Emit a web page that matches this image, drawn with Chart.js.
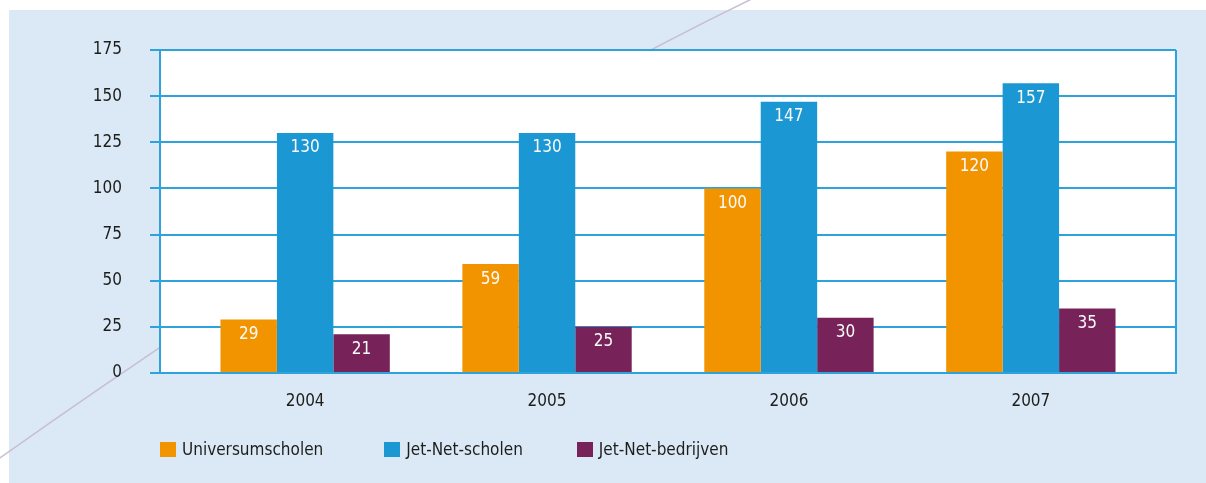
<!DOCTYPE html>
<html>
<head>
<meta charset="utf-8">
<script src="https://cdn.jsdelivr.net/npm/chart.js@4.4.1/dist/chart.umd.min.js"></script>
<style>
    html, body { margin: 0; padding: 0; background: #ffffff; }
    #wrap { position: relative; width: 1206px; height: 483px; }
    #legend {
        position: absolute; left: 160px; top: 437px;
        display: flex; align-items: center;
        font-family: 'Liberation Sans Narrow', 'DejaVu Sans Condensed', sans-serif;
        font-size: 17px; color: #1d1d1b;
    }
    #legend .item { display: flex; align-items: center; line-height: 24px; }
    #legend .item:nth-child(1) { margin-right: 61px; }
    #legend .item:nth-child(2) { margin-right: 54px; }
    #legend .box { width: 16px; height: 15px; margin-right: 6px; }
</style>
</head>
<body>
<div id="wrap">
    <canvas id="chart" width="1206" height="483"></canvas>
    <div id="legend"></div>
</div>
<script>
// gegevens
const jaren = ['2004', '2005', '2006', '2007'];
const universumscholen = [29, 59, 100, 120];
const jetNetScholen = [130, 130, 147, 157];
const jetNetBedrijven = [21, 25, 30, 35];
const yTicks = [0, 25, 50, 75, 100, 125, 150, 175];

const FONT = "'Liberation Sans Narrow', 'DejaVu Sans Condensed', sans-serif";
const GRID = '#2ea2da';

// achtergrond, witte plotvlak en decoratieve lijn
const backdrop = {
    id: 'backdrop',
    beforeDraw(chart) {
        const { ctx, chartArea: a } = chart;
        ctx.save();
        ctx.fillStyle = '#dbe9f6';
        ctx.fillRect(9, 10, chart.width - 9, chart.height - 10);
        // dunne gebogen lijn op de achtergrond
        ctx.strokeStyle = '#c9bdd2';
        ctx.lineWidth = 1.5;
        ctx.beginPath();
        ctx.moveTo(760, -5);
        ctx.quadraticCurveTo(427, 155, -10, 465);
        ctx.stroke();
        ctx.fillStyle = '#ffffff';
        ctx.fillRect(a.left, a.top, a.right - a.left, a.bottom - a.top);
        ctx.restore();
    },
    beforeDatasetsDraw(chart) {
        const { ctx, chartArea: a } = chart;
        ctx.save();
        ctx.strokeStyle = GRID;
        ctx.lineWidth = 2;
        ctx.beginPath();
        ctx.moveTo(a.right, a.top);
        ctx.lineTo(a.right, a.bottom);
        ctx.stroke();
        ctx.restore();
    }
};

// waarden in de staven
const barValues = {
    id: 'barValues',
    afterDatasetsDraw(chart) {
        const { ctx } = chart;
        ctx.save();
        ctx.fillStyle = '#fbfbfb';
        ctx.font = '17px ' + FONT;
        ctx.textAlign = 'center';
        ctx.textBaseline = 'middle';
        chart.data.datasets.forEach((ds, i) => {
            chart.getDatasetMeta(i).data.forEach((bar, j) => {
                ctx.fillText(ds.data[j], bar.x, bar.y + 15);
            });
        });
        ctx.restore();
    }
};

const chart = new Chart(document.getElementById('chart'), {
    type: 'bar',
    data: {
        labels: jaren,
        datasets: [
            { label: 'Universumscholen', data: universumscholen, backgroundColor: '#f29300' },
            { label: 'Jet-Net-scholen', data: jetNetScholen, backgroundColor: '#1b98d3' },
            { label: 'Jet-Net-bedrijven', data: jetNetBedrijven, backgroundColor: '#77235a' }
        ]
    },
    options: {
        responsive: false,
        animation: false,
        layout: { padding: { top: 50, right: 30, left: 0, bottom: 0 } },
        datasets: { bar: { categoryPercentage: 0.7, barPercentage: 1.0 } },
        plugins: {
            legend: { display: false },
            tooltip: { enabled: false }
        },
        scales: {
            x: {
                grid: { display: false, drawTicks: false },
                border: { color: GRID, width: 2 },
                ticks: { color: '#1d1d1b', font: { family: FONT, size: 17 }, padding: 18 },
                afterBuildTicks: (scale) => {
                    // iets extra ruimte aan beide kanten van de categorieën
                    scale._startValue -= 0.1;
                    scale._valueRange += 0.2;
                },
                afterFit: (scale) => { scale.height = 110; }
            },
            y: {
                min: 0,
                max: 175,
                afterBuildTicks: (scale) => { scale.ticks = yTicks.map(v => ({ value: v })); },
                grid: { color: GRID, lineWidth: 2, tickLength: 10 },
                border: { color: GRID, width: 2 },
                ticks: { color: '#1d1d1b', font: { family: FONT, size: 17 }, padding: 28 },
                afterFit: (scale) => { scale.width = 160; }
            }
        }
    },
    plugins: [backdrop, barValues]
});

// legenda
document.getElementById('legend').innerHTML = chart.data.datasets.map(ds => `
    <div class="item"><span class="box" style="background:${ds.backgroundColor}"></span>${ds.label}</div>
`).join('');
</script>
</body>
</html>
